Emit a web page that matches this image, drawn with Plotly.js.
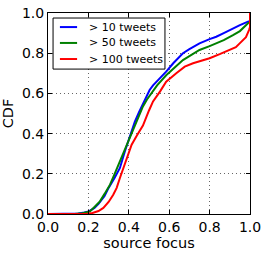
<!DOCTYPE html>
<html><head><meta charset="utf-8">
<script src="https://cdn.plot.ly/plotly-3.0.1.min.js"></script>
<style>html,body{margin:0;padding:0;background:#fff}#c{width:266px;height:256px}</style>
</head><body><div id="c"></div>
<script>
const seriesNames = ["> 10 tweets", "> 50 tweets", "> 100 tweets"];
const colors = ["#0000ff", "#008000", "#ff0000"];
const x10 = [0.0, 0.117, 0.15, 0.18, 0.2, 0.23, 0.25, 0.28, 0.3, 0.33, 0.356, 0.38, 0.406, 0.43, 0.45, 0.47, 0.49, 0.503, 0.52, 0.55, 0.585, 0.62, 0.668, 0.7, 0.75, 0.8, 0.833, 0.87, 0.916, 0.95, 0.99, 1.0, 1.0];
const y10 = [0.0, 0.0, 0.003, 0.007, 0.012, 0.03, 0.05, 0.09, 0.13, 0.18, 0.229, 0.31, 0.39, 0.46, 0.505, 0.55, 0.59, 0.617, 0.64, 0.67, 0.708, 0.75, 0.80, 0.82, 0.849, 0.87, 0.882, 0.9, 0.924, 0.94, 0.957, 0.96, 1.0];
const x50 = [0.0, 0.13, 0.17, 0.208, 0.23, 0.257, 0.28, 0.307, 0.33, 0.356, 0.38, 0.406, 0.43, 0.45, 0.47, 0.49, 0.51, 0.54, 0.585, 0.62, 0.668, 0.7, 0.75, 0.8, 0.833, 0.87, 0.916, 0.95, 0.99, 1.0, 1.0];
const y50 = [0.0, 0.0, 0.004, 0.013, 0.035, 0.063, 0.1, 0.146, 0.2, 0.262, 0.32, 0.378, 0.44, 0.49, 0.535, 0.57, 0.6, 0.64, 0.69, 0.72, 0.766, 0.785, 0.816, 0.835, 0.849, 0.865, 0.89, 0.91, 0.949, 0.955, 1.0];
const x100 = [0.0, 0.19, 0.22, 0.25, 0.274, 0.3, 0.323, 0.34, 0.356, 0.37, 0.39, 0.414, 0.44, 0.47, 0.5, 0.52, 0.555, 0.585, 0.635, 0.677, 0.718, 0.76, 0.8, 0.85, 0.9, 0.93, 0.949, 0.98, 0.995, 1.0, 1.0];
const y100 = [0.0, 0.0, 0.005, 0.015, 0.03, 0.06, 0.096, 0.13, 0.179, 0.22, 0.279, 0.345, 0.39, 0.44, 0.515, 0.56, 0.61, 0.658, 0.70, 0.733, 0.75, 0.762, 0.775, 0.795, 0.816, 0.83, 0.849, 0.88, 0.915, 0.93, 1.0];

const xs = [x10, x50, x100], ys = [y10, y50, y100];
const traces = seriesNames.map((n, i) => ({
  x: xs[i], y: ys[i], name: n, type: 'scatter', mode: 'lines',
  line: {color: colors[i], width: 2}, showlegend: false
}));
const fontFam = 'DejaVu Sans, sans-serif';
const ax = {
  range: [0, 1], dtick: 0.2, tickformat: '.1f',
  showgrid: true, gridcolor: '#666', griddash: '1px,3px', gridwidth: 1,
  showline: true, linecolor: '#000', linewidth: 1, mirror: 'allticks',
  ticks: 'inside', ticklen: 4, tickcolor: '#000',
  zeroline: false, tickfont: {family: fontFam, size: 14, color: '#000'}
};
// custom legend (matplotlib-style compact box)
const rowY = [0.930, 0.851, 0.771];
const shapes = [{type: 'rect', xref: 'paper', yref: 'paper', x0: 0.025, x1: 0.579, y0: 0.721, y1: 0.975,
  line: {color: '#000', width: 1}, fillcolor: '#fff', layer: 'above'}];
const annotations = [];
seriesNames.forEach((n, i) => {
  shapes.push({type: 'line', xref: 'paper', yref: 'paper', x0: 0.059, x1: 0.144, y0: rowY[i], y1: rowY[i],
    line: {color: colors[i], width: 2}, layer: 'above'});
  annotations.push({xref: 'paper', yref: 'paper', x: 0.195, y: rowY[i], xanchor: 'left', yanchor: 'middle',
    text: n, showarrow: false, font: {family: fontFam, size: 11, color: '#000'}});
});
const layout = {
  width: 266, height: 256,
  margin: {l: 48, r: 16, t: 13, b: 42},
  paper_bgcolor: '#fff', plot_bgcolor: '#fff',
  showlegend: false, shapes: shapes, annotations: annotations,
  xaxis: Object.assign({}, ax, {title: {text: 'source focus', font: {family: fontFam, size: 14.5, color: '#000'}, standoff: 3}}),
  yaxis: Object.assign({}, ax, {title: {text: 'CDF', font: {family: fontFam, size: 14.5, color: '#000'}, standoff: 5}})
};
Plotly.newPlot('c', traces, layout, {staticPlot: true, displayModeBar: false});
</script></body></html>
